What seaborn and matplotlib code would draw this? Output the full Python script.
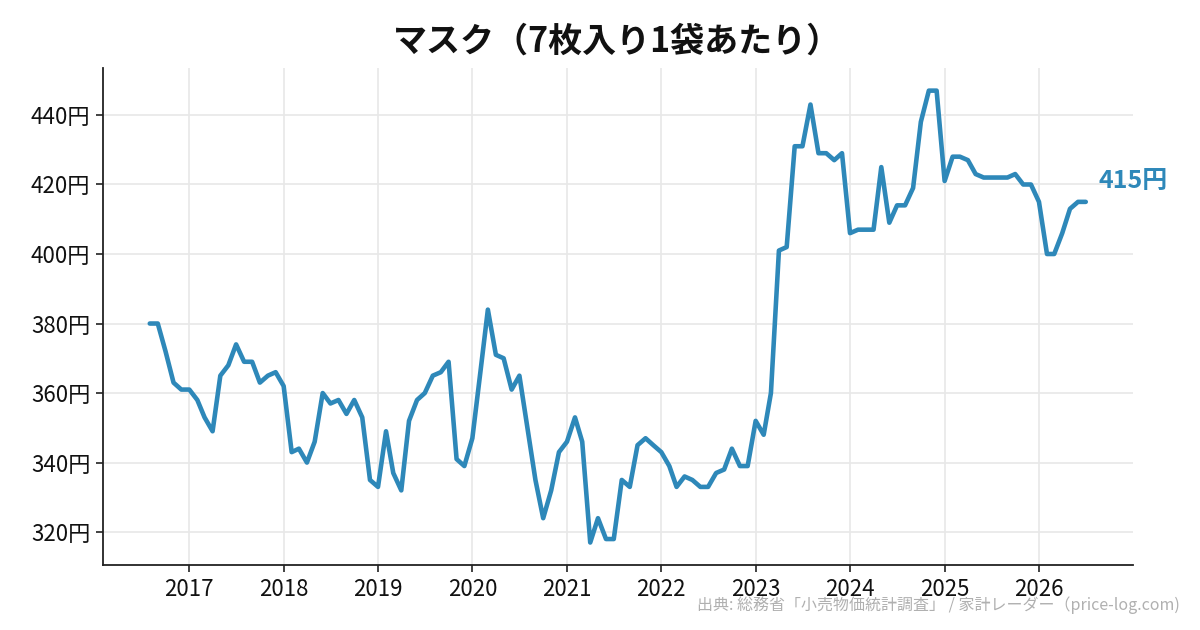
import matplotlib
matplotlib.use('Agg')
import matplotlib.pyplot as plt
import matplotlib.dates as mdates
import seaborn as sns
import pandas as pd

# monthly price of a 7-pack of masks, 2016-08 .. 2026-07
start_month = '2016-08'
prices = [
    380, 380, 372, 363, 361,                                        # 2016
    361, 358, 353, 349, 365, 368, 374, 369, 369, 363, 365, 366,     # 2017
    362, 343, 344, 340, 346, 360, 357, 358, 354, 358, 353, 335,     # 2018
    333, 349, 337, 332, 352, 358, 360, 365, 366, 369, 341, 339,     # 2019
    347, 366, 384, 371, 370, 361, 365, 350, 335, 324, 332, 343,     # 2020
    346, 353, 346, 317, 324, 318, 318, 335, 333, 345, 347, 345,     # 2021
    343, 339, 333, 336, 335, 333, 333, 337, 338, 344, 339, 339,     # 2022
    352, 348, 360, 401, 402, 431, 431, 443, 429, 429, 427, 429,     # 2023
    406, 407, 407, 407, 425, 409, 414, 414, 419, 438, 447, 447,     # 2024
    421, 428, 428, 427, 423, 422, 422, 422, 422, 423, 420, 420,     # 2025
    415, 400, 400, 406, 413, 415, 415,                              # 2026
]
title = 'マスク（7枚入り1袋あたり）'
source = '出典: 総務省「小売物価統計調査」 / 家計レーダー（price-log.com)'
yticks = [320, 340, 360, 380, 400, 420, 440]

line_color = '#2e88b9'

df = pd.DataFrame({
    'date': pd.date_range(start_month, periods=len(prices), freq='MS'),
    'price': prices,
})

sns.set_style('white')
plt.rcParams['font.family'] = ['Noto Sans CJK JP', 'DejaVu Sans']
plt.rcParams['text.color'] = '#111111'
plt.rcParams['xtick.color'] = '#111111'
plt.rcParams['ytick.color'] = '#111111'

fig = plt.figure(figsize=(12, 6.3), dpi=100)
ax = fig.add_axes([0.0858, 0.103, 0.858, 0.789])

sns.lineplot(data=df, x='date', y='price', ax=ax, color=line_color, linewidth=3.3)

ax.set_yticks(yticks)
ax.set_yticklabels([f'{v}円' for v in yticks])
ax.xaxis.set_major_locator(mdates.YearLocator())
ax.xaxis.set_major_formatter(mdates.DateFormatter('%Y'))
ax.tick_params(axis='both', labelsize=16, length=5, width=1.2, color='#222222',
               direction='out', left=True, bottom=True, labelcolor='#111111')
ax.tick_params(axis='x', pad=4)
ax.tick_params(axis='y', pad=4)
ax.grid(True, color='#e8e8e8', linewidth=1.2)
ax.set_axisbelow(True)
ax.set_xlabel('')
ax.set_ylabel('')
for side in ['top', 'right']:
    ax.spines[side].set_visible(False)
for side in ['left', 'bottom']:
    ax.spines[side].set_color('#222222')
    ax.spines[side].set_linewidth(1.3)

last = df.iloc[-1]
ax.annotate(f"{last['price']}円", xy=(last['date'], last['price']),
            xytext=(9, 15), textcoords='offset points',
            color=line_color, fontsize=18, fontweight='bold', va='center', ha='left')

fig.suptitle(title, x=0.514, y=0.962, fontsize=24.5, fontweight='bold', color='#111111')
fig.text(0.983, 0.04, source, ha='right', va='center', fontsize=11.5, color='#b0b0b0')

fig.savefig('out.png', dpi=100)
